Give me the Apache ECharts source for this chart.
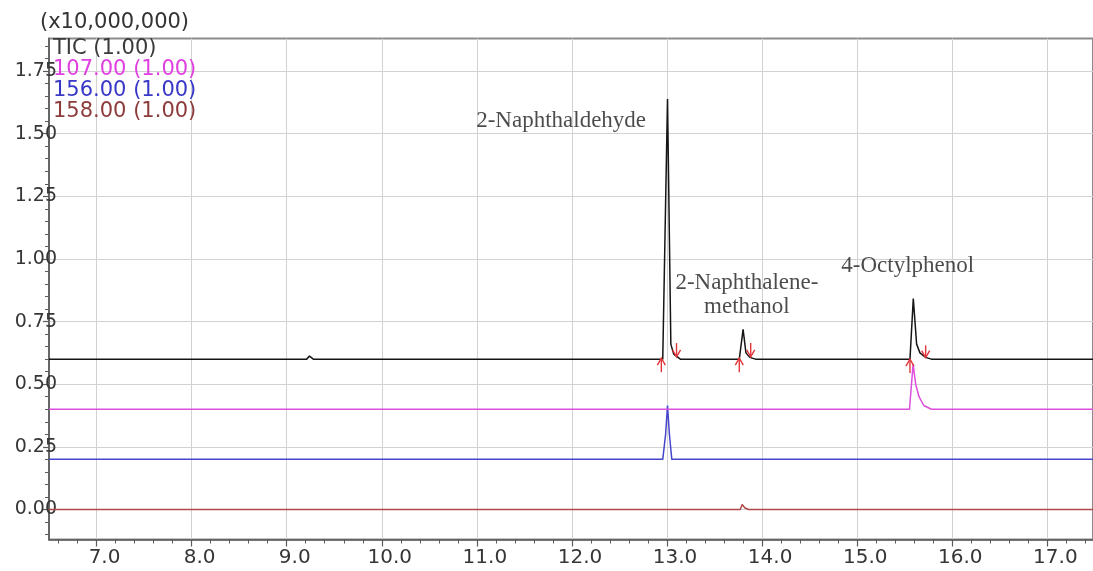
<!DOCTYPE html>
<html>
<head>
<meta charset="utf-8">
<script src="https://cdn.jsdelivr.net/npm/echarts@6/dist/echarts.min.js"></script>
<style>
  html, body { margin: 0; padding: 0; background: #fff; }
  #chart { width: 1093px; height: 571px; }
</style>
</head>
<body>
<div id="chart"></div>
<script>
// Retention-time window (min) and intensity window (x10,000,000)
const xRange = [6.5, 17.48];
const yRange = [-0.12, 1.88];

// Tick values
const xMajorTicks = [7, 8, 9, 10, 11, 12, 13, 14, 15, 16, 17];
const yMajorTicks = [0, 0.25, 0.5, 0.75, 1.0, 1.25, 1.5, 1.75];
const xMinorParts = 5;
const yMinorParts = 5;

// Trace names, scale factors and colours
const traceNames = ['TIC', '107.00', '156.00', '158.00'];
const traceScales = ['1.00', '1.00', '1.00', '1.00'];
const traceColors = ['#151515', '#dc4edc', '#4646cc', '#b04a4a'];
const traceTextColors = ['#3a3a3a', '#e040e0', '#3838c8', '#8e3b3b'];

// TIC (offset to 0.60)
const ticTime = [6.5, 9.21, 9.24, 9.28, 12.955, 13.005, 13.04, 13.07, 13.14, 13.76, 13.80, 13.83, 13.87, 13.93, 15.555, 15.59, 15.625, 15.66, 15.72, 15.78, 17.48];
const ticInt  = [0.60, 0.60, 0.612, 0.60, 0.60, 1.638, 0.66, 0.62, 0.60, 0.60, 0.719, 0.625, 0.607, 0.60, 0.60, 0.842, 0.66, 0.625, 0.607, 0.60, 0.60];

// m/z 107 (offset to 0.40)
const mz107Time = [6.5, 15.55, 15.588, 15.615, 15.65, 15.70, 15.78, 17.48];
const mz107Int  = [0.40, 0.40, 0.58, 0.50, 0.45, 0.415, 0.40, 0.40];

// m/z 156 (offset to 0.20)
const mz156Time = [6.5, 12.955, 12.985, 13.005, 13.025, 13.05, 17.48];
const mz156Int  = [0.20, 0.20, 0.30, 0.415, 0.30, 0.20, 0.20];

// m/z 158 (no offset)
const mz158Time = [6.5, 13.77, 13.79, 13.82, 13.86, 17.48];
const mz158Int  = [0.0, 0.0, 0.02, 0.006, 0.0, 0.0];

// Peak start / end markers on the TIC: time, tail, head
const markTime = [12.94, 13.10, 13.76, 13.88, 15.555, 15.72];
const markTail = [0.548, 0.664, 0.548, 0.664, 0.545, 0.655];
const markHead = [0.604, 0.609, 0.604, 0.609, 0.600, 0.606];

// Compound labels
const compoundNames = ['2-Naphthaldehyde', '2-Naphthalene-\nmethanol', '4-Octylphenol'];
const compoundTime = [11.886, 13.84, 15.532];
const compoundInt = [1.549, 0.855, 0.972];

function pairs(xs, ys) { return xs.map((x, i) => [x, ys[i]]); }

// Minor tick positions between (and just outside) the major ticks
function subdivide(majors, parts, lo, hi) {
  const step = (majors[1] - majors[0]) / parts;
  const out = [];
  const start = majors[0] - Math.floor((majors[0] - lo) / step) * step;
  for (let k = 0; ; k++) {
    const v = +(start + k * step).toFixed(6);
    if (v > hi) break;
    const isMajor = majors.some(m => Math.abs(m - v) < 1e-6);
    if (!isMajor && v >= lo) out.push(v);
  }
  return out;
}
const xMinorTicks = subdivide(xMajorTicks, xMinorParts, xRange[0], xRange[1]);
const yMinorTicks = subdivide(yMajorTicks, yMinorParts, yRange[0], yRange[1]);

const traceData = [
  pairs(ticTime, ticInt),
  pairs(mz107Time, mz107Int),
  pairs(mz156Time, mz156Int),
  pairs(mz158Time, mz158Int)
];
const legendNames = traceNames.map((n, i) => n + ' (' + traceScales[i] + ')');

const axisColor = '#5a5a5a';
const gridColor = '#d2d2d2';
const sansFont = '"DejaVu Sans", sans-serif';

const lineSeries = [3, 2, 1, 0].map(i => ({
  type: 'line',
  name: legendNames[i],
  data: traceData[i],
  showSymbol: false,
  symbol: 'none',
  silent: true,
  z: 3 + (3 - i),
  lineStyle: { color: traceColors[i], width: 1.5 },
  itemStyle: { color: traceColors[i] }
}));

const markerSeries = {
  type: 'custom',
  name: 'markers',
  silent: true,
  z: 10,
  data: markTime.map((t, i) => [t, markTail[i], markHead[i]]),
  encode: { x: 0, y: [1, 2] },
  renderItem(params, api) {
    const x = api.value(0);
    const p0 = api.coord([x, api.value(1)]);
    const p1 = api.coord([x, api.value(2)]);
    const dir = p1[1] < p0[1] ? -1 : 1;
    const hx = 4, hy = 7;
    const stroke = '#e2363c';
    return {
      type: 'group',
      children: [
        { type: 'line', shape: { x1: p0[0], y1: p0[1], x2: p1[0], y2: p1[1] },
          style: { stroke, lineWidth: 1.4 } },
        { type: 'polyline',
          shape: { points: [[p1[0] - hx, p1[1] - dir * hy], [p1[0], p1[1]], [p1[0] + hx, p1[1] - dir * hy]] },
          style: { stroke, fill: 'none', lineWidth: 1.4 } }
      ]
    };
  }
};

const labelSeries = {
  type: 'scatter',
  name: 'compounds',
  silent: true,
  z: 11,
  symbolSize: 1,
  itemStyle: { color: 'transparent' },
  data: compoundNames.map((n, i) => [compoundTime[i], compoundInt[i], n]),
  label: {
    show: true,
    position: 'inside',
    formatter: p => p.value[2],
    color: '#1e1e1e',
    fontFamily: '"Liberation Serif", "Times New Roman", serif',
    fontSize: 23,
    lineHeight: 24,
    align: 'center',
    verticalAlign: 'middle'
  }
};

const chart = echarts.init(document.getElementById('chart'), null, { renderer: 'canvas' });
chart.setOption({
  animation: false,
  backgroundColor: '#fff',
  grid: {
    left: 49, right: -4, top: 38.5, bottom: 31.5,
    show: true, borderColor: '#8c8c8c', borderWidth: 2, backgroundColor: 'transparent'
  },
  graphic: [{
    type: 'text', left: 40, top: 12,
    style: { text: '(x10,000,000)', fill: '#333', font: '21px ' + sansFont }
  }],
  legend: {
    orient: 'vertical',
    left: 48, top: 38,
    itemWidth: 0, itemHeight: 20, itemGap: 0,
    icon: 'rect',
    selectedMode: false,
    padding: 0,
    data: legendNames.map((n, i) => ({ name: n, textStyle: { color: traceTextColors[i] } })),
    textStyle: { fontFamily: sansFont, fontSize: 21, lineHeight: 20 }
  },
  xAxis: [{
    type: 'value', position: 'bottom',
    min: xRange[0], max: xRange[1],
    axisLine: { show: true, onZero: false, lineStyle: { color: axisColor, width: 1.5 } },
    axisTick: { show: true, inside: false, length: 7, customValues: xMajorTicks,
                lineStyle: { color: axisColor, width: 1.2 } },
    axisLabel: { show: true, customValues: xMajorTicks, margin: 8, padding: [0, 0, 0, 16],
                 formatter: v => v.toFixed(1), color: '#363636',
                 fontFamily: sansFont, fontSize: 20 },
    splitLine: { show: true, lineStyle: { color: gridColor, width: 1 } }
  }, {
    type: 'value', position: 'bottom', offset: 0,
    min: xRange[0], max: xRange[1],
    axisLine: { show: false, onZero: false },
    axisTick: { show: true, inside: false, length: 4, customValues: xMinorTicks,
                lineStyle: { color: axisColor, width: 1 } },
    axisLabel: { show: false },
    splitLine: { show: false }
  }],
  yAxis: [{
    type: 'value', position: 'left',
    min: yRange[0], max: yRange[1],
    axisLine: { show: true, onZero: false, lineStyle: { color: axisColor, width: 1.5 } },
    axisTick: { show: true, inside: false, length: 6, customValues: yMajorTicks,
                lineStyle: { color: axisColor, width: 1.2 } },
    axisLabel: { show: true, customValues: yMajorTicks, margin: -8,
                 formatter: v => v.toFixed(2), color: '#363636',
                 fontFamily: sansFont, fontSize: 19 },
    splitLine: { show: true, lineStyle: { color: gridColor, width: 1 } }
  }, {
    type: 'value', position: 'left', offset: 0,
    min: yRange[0], max: yRange[1],
    axisLine: { show: false, onZero: false },
    axisTick: { show: true, inside: false, length: 4, customValues: yMinorTicks,
                lineStyle: { color: axisColor, width: 1 } },
    axisLabel: { show: false },
    splitLine: { show: false }
  }],
  series: [...lineSeries, markerSeries, labelSeries]
});
</script>
</body>
</html>
